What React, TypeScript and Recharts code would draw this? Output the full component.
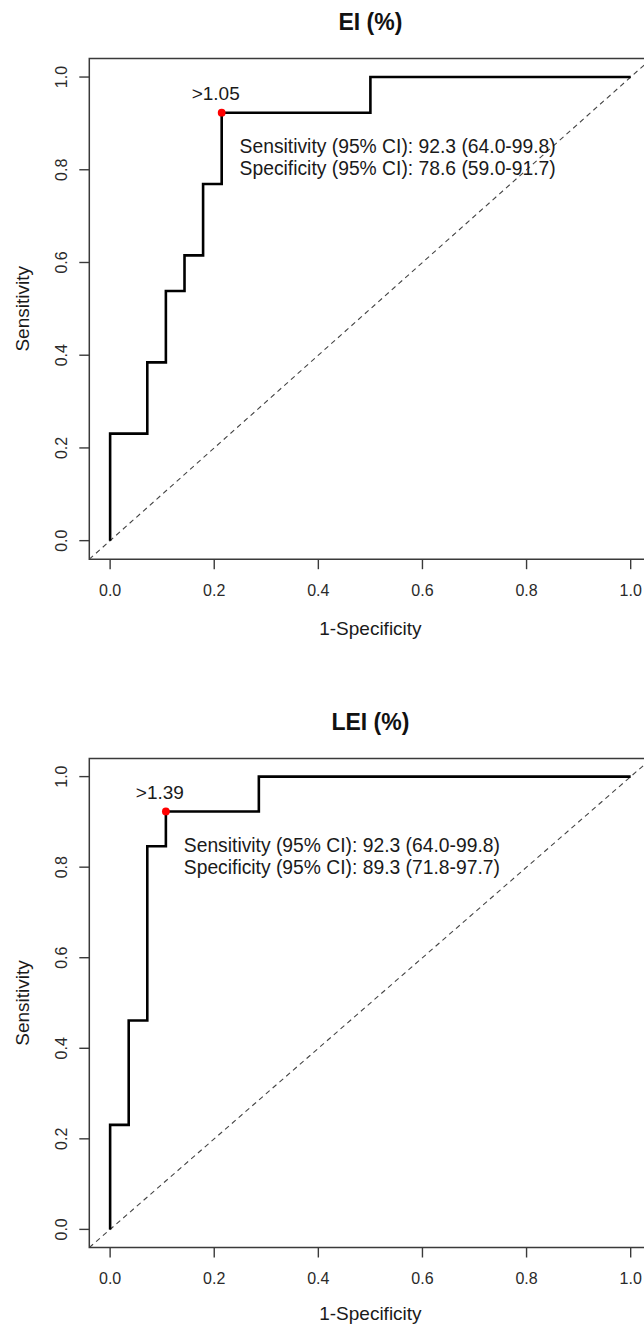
import React from "react";
import { LineChart, Line, XAxis, YAxis, ReferenceArea, ReferenceDot } from "recharts";

// shared axis setup
const axisTicks = [0, 0.2, 0.4, 0.6, 0.8, 1.0];
const axisDomain = [-0.04, 1.04];
const chanceFpr = [-0.04, 1.04];
const chanceTpr = [-0.04, 1.04];

// EI (%)
const eiFpr = [0, 0, 0.0714, 0.0714, 0.1071, 0.1071, 0.1429, 0.1429, 0.1786, 0.1786, 0.2143, 0.2143, 0.5, 0.5, 1];
const eiTpr = [0, 0.2308, 0.2308, 0.3846, 0.3846, 0.5385, 0.5385, 0.6154, 0.6154, 0.7692, 0.7692, 0.9231, 0.9231, 1, 1];
const eiCutFpr = 0.2143;
const eiCutTpr = 0.9231;
const eiCutLabel = ">1.05";
const eiSens = "Sensitivity (95% CI): 92.3 (64.0-99.8)";
const eiSpec = "Specificity (95% CI): 78.6 (59.0-91.7)";

// LEI (%)
const leiFpr = [0, 0, 0.0357, 0.0357, 0.0714, 0.0714, 0.1071, 0.1071, 0.2857, 0.2857, 1];
const leiTpr = [0, 0.2308, 0.2308, 0.4615, 0.4615, 0.8462, 0.8462, 0.9231, 0.9231, 1, 1];
const leiCutFpr = 0.1071;
const leiCutTpr = 0.9231;
const leiCutLabel = ">1.39";
const leiSens = "Sensitivity (95% CI): 92.3 (64.0-99.8)";
const leiSpec = "Specificity (95% CI): 89.3 (71.8-97.7)";

const FONT = '"Liberation Sans", Arial, sans-serif';
const TEXT = "#1a1a1a";
const AXIS = "#3a3a3a";

const toPoints = (fpr: number[], tpr: number[]) => fpr.map((f, i) => ({ fpr: f, tpr: tpr[i] }));

const XTick = ({ x, y, payload }: any) => (
  <text x={x} y={y + 26.3} textAnchor="middle" fontSize={16} fontFamily={FONT} fill="#2a2a2a">
    {Number(payload.value).toFixed(1)}
  </text>
);

const YTick = ({ x, y, payload }: any) => {
  const bx = x - 12.5;
  return (
    <text
      x={bx}
      y={y}
      transform={`rotate(-90, ${bx}, ${y})`}
      textAnchor="middle"
      fontSize={16}
      fontFamily={FONT}
      fill="#2a2a2a"
    >
      {Number(payload.value).toFixed(1)}
    </text>
  );
};

interface PanelProps {
  title: string;
  fpr: number[];
  tpr: number[];
  cutFpr: number;
  cutTpr: number;
  cutLabel: string;
  sens: string;
  spec: string;
  top: number;
  height: number;
  marginBottom: number;
  xTitleDy: number;
}

const RocPanel: React.FC<PanelProps> = (p) => {
  const curve = toPoints(p.fpr, p.tpr);
  const chance = toPoints(chanceFpr, chanceTpr);
  return (
    <div style={{ position: "absolute", left: 0, top: p.top, width: 700, height: p.height }}>
      <div
        style={{
          position: "absolute",
          left: 89.3,
          width: 562.2,
          top: 10.5,
          textAlign: "center",
          fontFamily: FONT,
          fontWeight: "bold",
          fontSize: 23,
          lineHeight: "23px",
          color: "#111",
        }}
      >
        {p.title}
      </div>
      <LineChart
        width={700}
        height={p.height}
        margin={{ top: 58.5, right: 48.5, bottom: p.marginBottom, left: 0 }}
      >
        <XAxis
          type="number"
          dataKey="fpr"
          domain={axisDomain}
          ticks={axisTicks}
          allowDataOverflow
          axisLine={false}
          tickLine={{ stroke: AXIS, strokeWidth: 1.4 }}
          tickSize={10}
          tickMargin={0}
          height={60}
          tick={<XTick />}
          label={({ viewBox }: any) => (
            <text
              x={viewBox.x + viewBox.width / 2}
              y={viewBox.y + p.xTitleDy}
              textAnchor="middle"
              fontSize={19}
              fontFamily={FONT}
              fill={TEXT}
            >
              1-Specificity
            </text>
          )}
        />
        <YAxis
          type="number"
          dataKey="tpr"
          domain={axisDomain}
          ticks={axisTicks}
          allowDataOverflow
          axisLine={false}
          tickLine={{ stroke: AXIS, strokeWidth: 1.4 }}
          tickSize={10}
          tickMargin={0}
          width={89.3}
          tick={<YTick />}
          label={({ viewBox }: any) => {
            const cy = viewBox.y + viewBox.height / 2;
            return (
              <text
                x={28.8}
                y={cy}
                transform={`rotate(-90, 28.8, ${cy})`}
                textAnchor="middle"
                fontSize={19}
                fontFamily={FONT}
                fill={TEXT}
              >
                Sensitivity
              </text>
            );
          }}
        />
        <ReferenceArea
          x1={-0.04}
          x2={1.04}
          y1={-0.04}
          y2={1.04}
          fill="none"
          fillOpacity={0}
          stroke={AXIS}
          strokeWidth={1.5}
          ifOverflow="visible"
        />
        <Line
          data={chance}
          dataKey="tpr"
          type="linear"
          stroke="#444"
          strokeWidth={1.1}
          strokeDasharray="5 4"
          dot={false}
          activeDot={false}
          isAnimationActive={false}
        />
        <Line
          data={curve}
          dataKey="tpr"
          type="linear"
          stroke="#000"
          strokeWidth={2.6}
          dot={false}
          activeDot={false}
          isAnimationActive={false}
        />
        <ReferenceDot
          x={p.cutFpr}
          y={p.cutTpr}
          r={3.8}
          shape={(s: any) => (
            <g fontFamily={FONT} fill={TEXT}>
              <circle cx={s.cx} cy={s.cy} r={3.9} fill="#ff0000" stroke="none" />
              <text x={s.cx - 6} y={s.cy - 12.2} textAnchor="middle" fontSize={19}>
                {p.cutLabel}
              </text>
              <text x={s.cx + 176} y={s.cy + 40.8} textAnchor="middle" fontSize={19.3}>
                {p.sens}
              </text>
              <text x={s.cx + 176} y={s.cy + 62.4} textAnchor="middle" fontSize={19.3}>
                {p.spec}
              </text>
            </g>
          )}
        />
      </LineChart>
    </div>
  );
};

export default function App() {
  return (
    <div
      style={{
        position: "relative",
        width: 644,
        height: 1325,
        overflow: "hidden",
        background: "#fff",
      }}
    >
      <style>{"body{margin:0}"}</style>
      <RocPanel
        title="EI (%)"
        fpr={eiFpr}
        tpr={eiTpr}
        cutFpr={eiCutFpr}
        cutTpr={eiCutTpr}
        cutLabel={eiCutLabel}
        sens={eiSens}
        spec={eiSpec}
        top={0}
        height={650}
        marginBottom={30.8}
        xTitleDy={75.6}
      />
      <RocPanel
        title="LEI (%)"
        fpr={leiFpr}
        tpr={leiTpr}
        cutFpr={leiCutFpr}
        cutTpr={leiCutTpr}
        cutLabel={leiCutLabel}
        sens={leiSens}
        spec={leiSpec}
        top={700}
        height={625}
        marginBottom={17.5}
        xTitleDy={72.3}
      />
    </div>
  );
}
